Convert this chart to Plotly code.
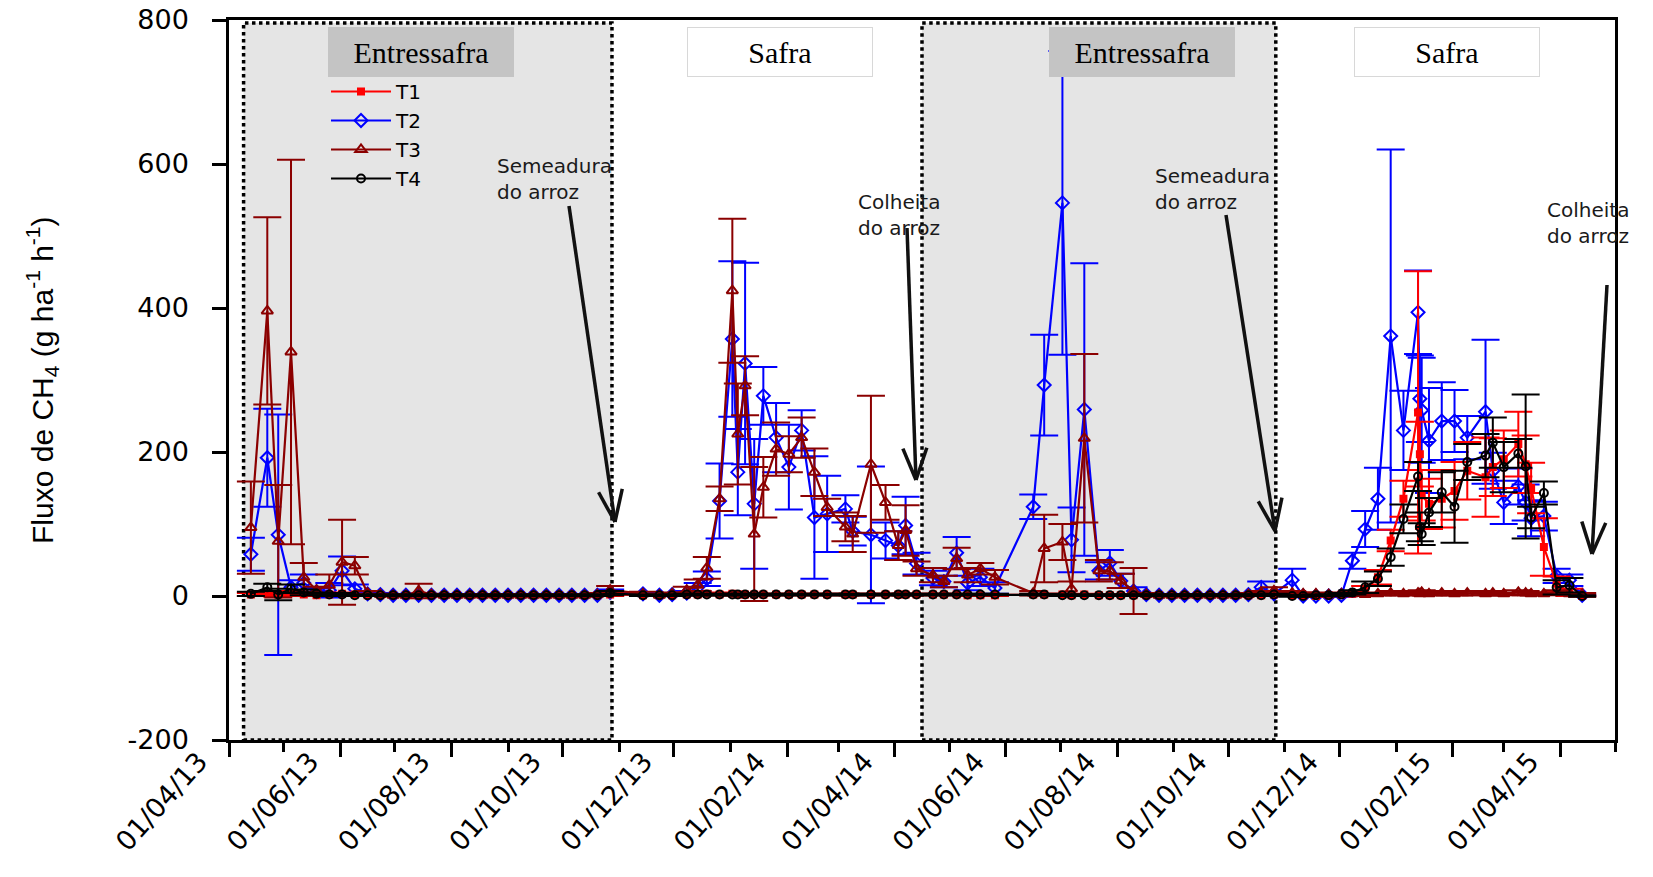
import math
import plotly.graph_objects as go

# ---------------- data ----------------
dates = [
    # entressafra 2013
    "2013-04-13", "2013-04-22", "2013-04-28", "2013-05-05", "2013-05-12", "2013-05-19", "2013-05-26",
    "2013-06-02", "2013-06-09", "2013-06-16", "2013-06-23", "2013-06-30", "2013-07-07", "2013-07-14",
    "2013-07-21", "2013-07-28", "2013-08-04", "2013-08-11", "2013-08-18", "2013-08-25", "2013-09-01",
    "2013-09-08", "2013-09-15", "2013-09-22", "2013-09-29", "2013-10-06", "2013-10-13", "2013-10-20",
    "2013-10-27",
    # safra 2013/14
    "2013-11-14", "2013-11-23", "2013-11-30", "2013-12-08", "2013-12-14", "2013-12-19", "2013-12-26",
    "2014-01-02", "2014-01-05", "2014-01-09", "2014-01-14", "2014-01-19", "2014-01-26", "2014-02-02",
    "2014-02-09", "2014-02-16", "2014-02-23", "2014-03-05", "2014-03-09", "2014-03-19", "2014-03-27",
    "2014-04-03", "2014-04-07", "2014-04-13",
    # entressafra 2014
    "2014-04-22", "2014-04-28", "2014-05-05", "2014-05-11", "2014-05-18", "2014-05-26", "2014-06-16",
    "2014-06-22", "2014-07-02", "2014-07-07", "2014-07-14", "2014-07-22", "2014-07-28", "2014-08-03",
    "2014-08-10", "2014-08-17", "2014-08-24", "2014-08-31", "2014-09-07", "2014-09-14", "2014-09-21",
    "2014-09-28", "2014-10-05", "2014-10-12", "2014-10-19", "2014-10-26",
    # safra 2014/15
    "2014-11-05", "2014-11-11", "2014-11-18", "2014-11-25", "2014-12-02", "2014-12-08", "2014-12-15",
    "2014-12-22", "2014-12-29", "2015-01-05", "2015-01-13", "2015-01-14", "2015-01-15", "2015-01-19",
    "2015-01-26", "2015-02-02", "2015-02-09", "2015-02-19", "2015-02-23", "2015-03-01", "2015-03-09",
    "2015-03-13", "2015-03-16", "2015-03-23", "2015-03-30", "2015-04-06", "2015-04-13",
]

t1 = [2, 3, 2, 4, 2, 1, 2, 3, 2, 1, 1, 1, 1, 1, 1, 1, 1, 1, 1, 1, 1, 1, 1, 1, 1, 1, 1, 1, 2,
      1, 1, 1, 2, 2, 3, 2, 3, 2, 2, 2, 2, 2, 2, 2, 2, 2, 2, 2, 2, 2, 2, 2, 2,
      2, 2, 2, 1, 1, 1, 2, 2, 2, 1, 2, 1, 1, 1, 1, 1, 1, 1, 1, 1, 1, 1, 1, 1, 1, 2,
      1, 0, 0, 1, 2, 3, 8, 26, 77, 135, 255, 197, 140, 128, 135, 146, 174, 165, 179, 190, 211, 183, 150, 68, 17, 5, 0]
t1_err = [2, 3, 2, 3, 2, 1, 2, 2, 1, 1, 1, 1, 1, 1, 1, 1, 1, 1, 1, 1, 1, 1, 1, 1, 1, 1, 1, 1, 2,
          1, 1, 1, 1, 1, 2, 1, 2, 1, 1, 1, 1, 1, 1, 1, 1, 1, 1, 1, 1, 1, 1, 1, 1,
          1, 1, 1, 1, 1, 1, 1, 1, 1, 1, 1, 1, 1, 1, 1, 1, 1, 1, 1, 1, 1, 1, 1, 1, 1, 1,
          1, 1, 1, 1, 2, 3, 6, 10, 15, 25, 196, 45, 35, 35, 40, 40, 40, 55, 40, 40, 45, 40, 35, 40, 10, 5, 1]

t2 = [58, 192, 85, 12, 18, 6, 8, 35, 10, 3, 2, 1, 1, 1, 1, 1, 1, 1, 1, 1, 1, 1, 1, 1, 1, 1, 1, 1, 5,
      3, 1, 2, 4, 12, 24, 132, 357, 172, 323, 128, 278, 220, 179, 230, 109, 114, 121, 90, 85, 77, 70, 98, 45,
      25, 20, 60, 18, 26, 11, 124, 293, 546, 78, 259, 35, 46, 21, 7, 2, 1, 1, 1, 1, 1, 1, 1, 2, 12, 3,
      22, 0, 0, 0, 1, 49, 93, 135, 361, 230, 394, 274, 258, 216, 243, 243, 220, 256, 174, 130, 152, 130, 108, 111, 28, 22, 1]
t2_err = [23, 68, 167, 10, 12, 5, 10, 20, 6, 2, 2, 1, 1, 1, 1, 1, 1, 1, 1, 1, 1, 1, 1, 1, 1, 1, 1, 1, 4,
          2, 1, 2, 3, 6, 10, 52, 108, 60, 140, 90, 40, 48, 59, 28, 85, 53, 19, 20, 95, 25, 20, 40, 15,
          10, 8, 22, 10, 12, 8, 17, 70, 211, 45, 203, 12, 18, 10, 5, 2, 1, 1, 1, 1, 1, 1, 1, 2, 8, 3,
          16, 1, 1, 1, 2, 11, 25, 43, 259, 55, 58, 60, 73, 73, 54, 43, 30, 100, 25, 30, 25, 25, 25, 20, 10, 8, 1]

t3 = [95, 396, 76, 339, 26, 8, 15, 47, 42, 4, 2, 1, 1, 7, 2, 1, 1, 1, 1, 1, 1, 1, 1, 1, 1, 1, 1, 2, 8,
      3, 1, 3, 8, 15, 39, 135, 424, 225, 292, 86, 151, 204, 197, 220, 172, 123, 96, 86, 183, 130, 70, 91, 38,
      29, 20, 52, 29, 38, 26, 4, 66, 75, 10, 219, 35, 35, 21, 7, 2, 1, 1, 1, 1, 1, 1, 1, 2, 4, 7,
      4, 3, 3, 2, 3, 3, 2, 3, 4, 3, 4, 3, 5, 3, 4, 3, 4, 3, 4, 3, 5, 4, 3, 3, 5, 3, 2]
t3_err = [64, 130, 78, 267, 20, 5, 15, 59, 12, 3, 1, 1, 1, 10, 1, 1, 1, 1, 1, 1, 1, 1, 1, 1, 1, 1, 1, 2, 6,
          3, 1, 2, 5, 8, 15, 17, 100, 70, 41, 93, 42, 37, 25, 28, 33, 12, 20, 25, 95, 24, 20, 35, 10,
          10, 8, 15, 10, 8, 10, 3, 47, 25, 10, 117, 15, 12, 10, 32, 2, 1, 1, 1, 1, 1, 1, 1, 2, 3, 5,
          3, 2, 2, 2, 2, 2, 2, 2, 3, 2, 3, 2, 3, 2, 3, 2, 3, 2, 3, 2, 3, 3, 2, 2, 3, 2, 2]

t4 = [3, 12, 2, 10, 5, 3, 2, 2, 1, 1, 1, 1, 1, 1, 1, 1, 1, 1, 1, 1, 1, 1, 1, 1, 1, 1, 1, 1, 4,
      1, 1, 1, 2, 2, 2, 2, 2, 2, 2, 2, 2, 2, 2, 2, 2, 2, 2, 2, 2, 2, 2, 2, 2,
      2, 2, 2, 2, 2, 2, 2, 2, 1, 1, 1, 1, 1, 1, 1, 1, 1, 1, 1, 1, 1, 1, 1, 1, 1, 2,
      0, 0, 1, 1, 2, 5, 12, 24, 54, 107, 166, 96, 86, 116, 144, 124, 186, 195, 213, 179, 198, 180, 109, 143, 12, 15, 0]
t4_err = [3, 5, 8, 6, 4, 2, 2, 2, 1, 1, 1, 1, 1, 1, 1, 1, 1, 1, 1, 1, 1, 1, 1, 1, 1, 1, 1, 1, 3,
          1, 1, 1, 1, 1, 1, 1, 1, 1, 1, 1, 1, 1, 1, 1, 1, 1, 1, 1, 1, 1, 1, 1, 1,
          1, 1, 1, 1, 1, 1, 1, 1, 1, 1, 1, 1, 1, 1, 1, 1, 1, 1, 1, 1, 1, 1, 1, 1, 1, 1,
          1, 1, 1, 1, 2, 3, 8, 10, 12, 20, 20, 20, 15, 20, 28, 50, 25, 30, 35, 35, 20, 100, 15, 16, 10, 10, 1]

entressafra_periods = [("2013-04-09", "2013-10-28"), ("2014-04-16", "2014-10-27")]
season_labels = ["Entressafra", "Safra", "Entressafra", "Safra"]
event_labels = ["Semeadura<br>do arroz", "Colheita<br>do arroz", "Semeadura<br>do arroz", "Colheita<br>do arroz"]
y_ticks = [-200, 0, 200, 400, 600, 800]
y_ticktext = ["-200", "0", "200", "400", "600", "800"]

# ---------------- layout geometry ----------------
W_PAGE, H_PAGE = 1653, 877
ML, MR, MT, MB = 229, 38, 20, 137
PW = W_PAGE - ML - MR
PH = H_PAGE - MT - MB


def pxx(x):
    return (x - ML) / PW


def pxy(y):
    return (H_PAGE - MB - y) / PH


fig = go.Figure()

# shaded "entressafra" periods
for a, b in entressafra_periods:
    fig.add_shape(type="rect", xref="x", yref="y", x0=a, x1=b, y0=-200, y1=796,
                  fillcolor="#e5e5e5", line=dict(color="black", width=3.5, dash="dot"),
                  layer="below")

series = [
    ("T2", t2, t2_err, "#0000ff", "diamond-open", 10, 2),
    ("T1", t1, t1_err, "#ff0000", "square", 6, 1),
    ("T3", t3, t3_err, "#8b0000", "triangle-up-open", 10, 3),
    ("T4", t4, t4_err, "#000000", "circle-open", 8, 4),
]
for name, vals, errs, color, sym, size, rank in series:
    fig.add_trace(go.Scatter(
        x=dates, y=vals, name=name, mode="lines+markers", legendrank=rank,
        line=dict(color=color, width=2.2),
        marker=dict(symbol=sym, size=size, color=color, line=dict(color=color, width=2)),
        error_y=dict(type="data", array=errs, visible=True, color=color, thickness=2, width=14),
    ))

# season labels
label_boxes = [(421, "#c4c4c4", "#c4c4c4"), (780, "white", "#d8d8d8"),
               (1142, "#c4c4c4", "#c4c4c4"), (1447, "white", "#d8d8d8")]
for text, (cx, bg, bc) in zip(season_labels, label_boxes):
    fig.add_annotation(xref="paper", yref="paper", x=pxx(cx), y=pxy(52), text=text,
                       showarrow=False, xanchor="center", yanchor="middle",
                       font=dict(family="Liberation Serif", size=30, color="black"),
                       bgcolor=bg, bordercolor=bc, borderwidth=1, width=182, height=46)

# event text labels
event_pos = [(495, 152), (856, 188), (1153, 162), (1545, 196)]
for text, (x0, y0) in zip(event_labels, event_pos):
    fig.add_annotation(xref="paper", yref="paper", x=pxx(x0), y=pxy(y0), text=text,
                       showarrow=False, xanchor="left", yanchor="top", align="left",
                       font=dict(family="DejaVu Sans", size=20, color="#1a1a1a"))

# arrows (shaft + open V head)
arrows = [((569, 206), (615, 522)), ((907, 228), (916, 480)),
          ((1226, 215), (1275, 531)), ((1607, 285), (1592, 554))]
for (x0, y0), (x1, y1) in arrows:
    fig.add_shape(type="line", xref="paper", yref="paper", x0=pxx(x0), y0=pxy(y0),
                  x1=pxx(x1), y1=pxy(y1), line=dict(color="#111111", width=3.5))
    ang = math.atan2(y0 - y1, x0 - x1)
    for da in (-0.36, 0.36):
        bx = x1 + 34 * math.cos(ang + da)
        by = y1 + 34 * math.sin(ang + da)
        fig.add_shape(type="line", xref="paper", yref="paper", x0=pxx(x1), y0=pxy(y1),
                      x1=pxx(bx), y1=pxy(by), line=dict(color="#111111", width=3.5))

# y-axis title
fig.add_annotation(xref="paper", yref="paper", x=pxx(42), y=pxy(380), textangle=-90,
                   text="Fluxo de CH<sub>4</sub> (g ha<sup>-1</sup> h<sup>-1</sup>)",
                   showarrow=False, xanchor="center", yanchor="middle",
                   font=dict(family="Liberation Sans", size=30, color="black"))

fig.update_layout(
    width=W_PAGE, height=H_PAGE,
    margin=dict(l=ML, r=MR, t=MT, b=MB, autoexpand=False),
    paper_bgcolor="white", plot_bgcolor="white",
    showlegend=True,
    legend=dict(x=pxx(326), y=pxy(72), xanchor="left", yanchor="top",
                bgcolor="rgba(0,0,0,0)", font=dict(family="DejaVu Sans", size=20, color="black"),
                itemwidth=60, tracegroupgap=0),
    xaxis=dict(type="date", range=["2013-04-01", "2015-05-01"],
               tick0="2013-04-01", dtick="M2", tickformat="%d/%m/%y",
               tickangle=-48, ticks="outside", ticklen=14, tickwidth=2.5, tickcolor="black",
               minor=dict(ticks="outside", ticklen=9, tickwidth=2.5, tickcolor="black", dtick="M1",
                          tick0="2013-04-01"),
               showline=True, linecolor="black", linewidth=2.5, mirror=True,
               showgrid=False, zeroline=False,
               tickfont=dict(family="DejaVu Sans", size=27, color="black"),
               ticklabelshift=-30, ticklabelstandoff=-22),
    yaxis=dict(range=[-200, 800], tickvals=y_ticks, ticktext=y_ticktext, ticks="outside",
               ticklen=14, tickwidth=2.5,
               tickcolor="black", showline=True, linecolor="black", linewidth=2.5, mirror=True,
               showgrid=False, zeroline=False,
               tickfont=dict(family="DejaVu Sans", size=27, color="black"),
               ticklabelstandoff=18),
)

fig.write_html("out.html")
